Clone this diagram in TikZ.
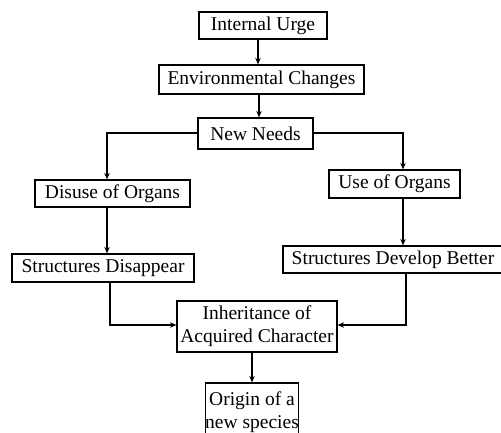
\documentclass[tikz,border=0pt]{standalone}
\usepackage{fontspec}
\setmainfont{Liberation Serif}
\usetikzlibrary{arrows.meta}
\begin{document}
\begin{tikzpicture}[x=1pt,y=-1pt,
  box/.style={draw,line width=1.2pt,inner sep=0pt,align=center,font=\fontsize{19.5}{23}\selectfont},
  conn/.style={line width=1.5pt,-{Stealth[length=6.5pt,width=5.5pt]}}]
\useasboundingbox (0,0) rectangle (501,432);
\node[box,minimum width=128pt,minimum height=27pt] (urge) at (263,25.5) {Internal Urge};
\node[box,minimum width=205pt,minimum height=29pt] (env) at (261.5,79.5) {Environmental Changes};
\node[box,minimum width=115pt,minimum height=31pt] (needs) at (255.5,133.5) {New Needs};
\node[box,minimum width=155pt,minimum height=27pt] (disuse) at (112.5,193.5) {Disuse of Organs};
\node[box,minimum width=182pt,minimum height=28pt] (sdis) at (103,268) {Structures Disappear};
\node[box,minimum width=131pt,minimum height=28pt] (use) at (394.5,184) {Use of Organs};
\node[box,minimum width=220pt,minimum height=27pt] (sdev) at (393,259.5) {Structures Develop Better};
\node[box,minimum width=160pt,minimum height=51pt] (inh) at (257,326.5) {Inheritance of\\Acquired Character};
\node[box,minimum width=88pt,minimum height=59pt] (orig) at (252,412.5) {Origin of a\\new species};
\coordinate (nl) at (107,133);
\coordinate (nr) at (403,133);
\coordinate (bl) at (110,325);
\coordinate (br) at (406,325);
\draw[conn] (urge.south -| 258,0) -- (env.north -| 258,0);
\draw[conn] (env.south -| 259,0) -- (needs.north -| 259,0);
\draw[conn] (needs.west |- nl) -- (nl) -- (disuse.north -| nl);
\draw[conn] (needs.east |- nr) -- (nr) -- (use.north -| nr);
\draw[conn] (disuse.south -| nl) -- (sdis.north -| nl);
\draw[conn] (use.south -| nr) -- (sdev.north -| nr);
\draw[conn] (sdis.south -| bl) -- (bl) -- (inh.west |- bl);
\draw[conn] (sdev.south -| br) -- (br) -- (inh.east |- br);
\draw[conn] (inh.south -| 252,0) -- (orig.north -| 252,0);
\end{tikzpicture}
\end{document}
